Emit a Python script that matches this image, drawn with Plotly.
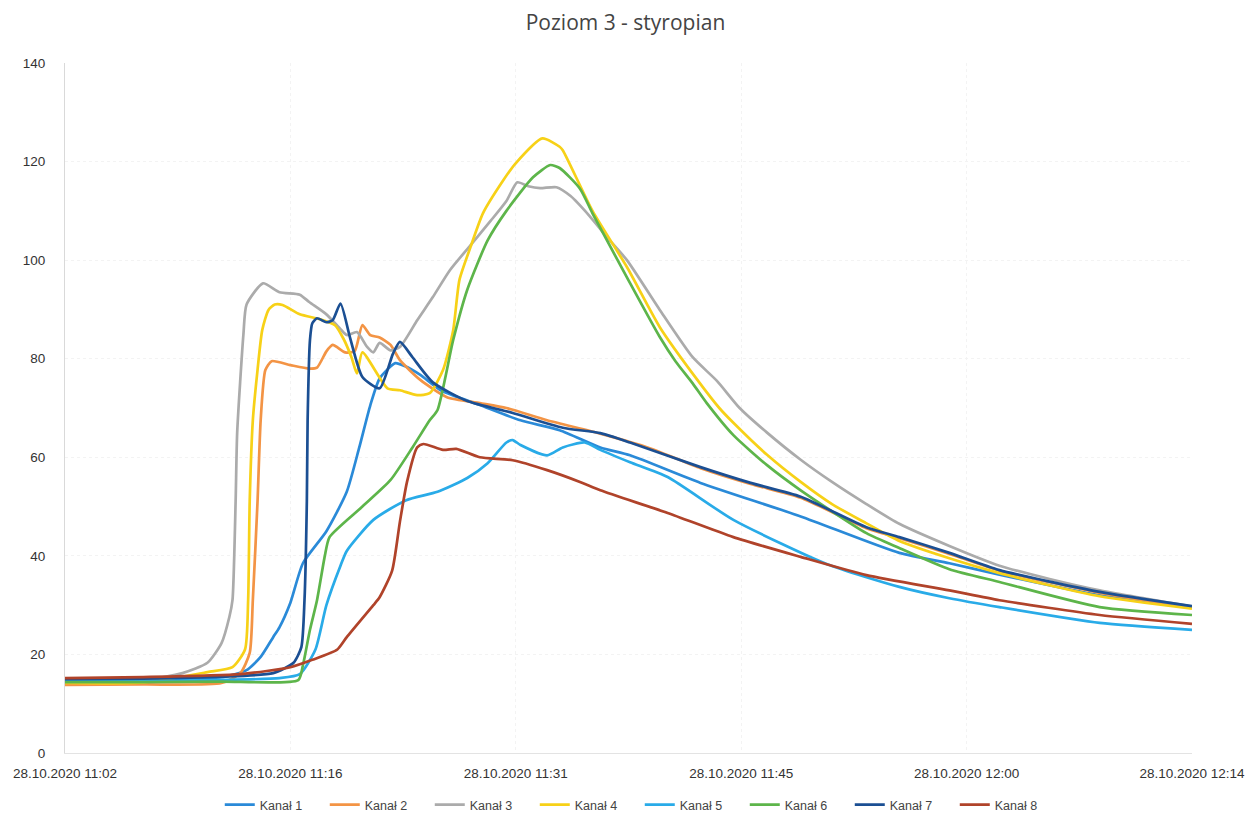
import plotly.graph_objects as go

# time in minutes after 28.10.2020 11:02
tick_vals = [0, 14.4, 28.8, 43.2, 57.6, 72.0]
tick_text = ["28.10.2020 11:02", "28.10.2020 11:16", "28.10.2020 11:31",
             "28.10.2020 11:45", "28.10.2020 12:00", "28.10.2020 12:14"]

k1_t = [0, 5, 10.1, 11.6, 12.5, 13.3, 13.7, 14.4, 15.2, 16.7, 18.0, 18.8, 19.5, 20.1, 21.1, 21.7,
        22.7, 24.0, 26.5, 29.1, 31.6, 34.2, 36.1, 40.6, 47.0, 53.3, 56.5, 59.7, 66.1, 72.0]
k1_v = [14.8, 15.0, 15.4, 16.8, 19.5, 23.5, 25.5, 30.5, 38.5, 45, 53, 62, 70.5, 76, 79.1, 78.5,
        76.7, 73.6, 70.6, 67.5, 65.5, 62, 60.4, 54.8, 48, 40.6, 38.5, 36.2, 32, 29.5]

k2_t = [0, 5, 10, 11.2, 11.8, 12.0, 12.3, 12.5, 12.8, 13.2, 14.4, 15.6, 16.1, 16.7, 17.1, 17.9,
        18.5, 19.0, 19.5, 20.1, 20.8, 21.4, 22.7, 24.4, 26.5, 28.2, 30.8, 34.2, 37.4, 40.6,
        43.8, 47.0, 51.2, 53.3, 56.5, 59.7, 66.1, 72.0]
k2_v = [13.8, 13.9, 14.2, 16.2, 20.3, 31, 51, 67.5, 77.7, 79.5, 78.7, 78, 78.2, 81.5, 82.8, 81.3,
        81.5, 86.8, 84.8, 84.3, 82.8, 79.7, 75.7, 72.2, 71, 70, 67.5, 64.8, 61.8, 57.8,
        54.6, 51.8, 45.6, 43.6, 40.4, 37, 32.5, 29.5]

k3_t = [0, 5, 7.5, 9.1, 10.0, 10.5, 10.7, 10.9, 11.0, 11.4, 11.6, 12.65, 13.7, 15.0, 15.6, 16.7,
        17.6, 18.0, 18.65, 19.3, 19.7, 20.1, 20.8, 21.4, 22.5, 23.5, 24.6, 25.9, 27.2, 28.2,
        28.9, 29.6, 30.35, 31.4, 32.3, 33.5, 34.8, 35.9, 38.0, 40.1, 41.65, 43.1, 44.85, 47.0,
        49.0, 51.2, 53.3, 56.5, 59.7, 62.9, 66.1, 72.0]
k3_v = [14.6, 14.8, 16.2, 18.3, 22.3, 27.6, 31, 51, 65, 85, 91, 95.3, 93.5, 93, 91.5, 89,
        86, 84.8, 85.4, 82.4, 81.3, 83.2, 81.7, 82.4, 87.8, 92.5, 98, 103, 108, 112,
        115.8, 115, 114.6, 114.8, 113, 109, 104, 100, 89.9, 80.3, 75.5, 70, 65, 59.5,
        55, 50.5, 46.5, 42, 38, 35.3, 33, 29.7]

k4_t = [0, 5, 9.1, 10.7, 11.5, 11.7, 11.8, 12.0, 12.3, 12.6, 13.0, 13.4, 13.9, 15.0, 16.3,
        17.25, 17.8, 18.3, 18.65, 19.0, 20.6, 21.4, 22.5, 23.3, 24.15, 24.8, 25.2, 25.9, 26.7,
        28.0, 28.75, 30.5, 31.6, 31.8, 33.7, 35.9, 38.0, 40.4, 41.8, 42.7, 44.85, 47.0, 49.0,
        51.2, 53.3, 56.5, 59.7, 66.1, 72.0]
k4_v = [14.2, 14.3, 16.4, 17.4, 21, 31, 51, 67.5, 77.7, 85.8, 89.9, 91, 90.9, 89, 88,
        86.8, 84, 80.3, 77, 81.3, 74, 73.6, 72.6, 73, 77.7, 85.8, 96, 102.6, 109.5,
        116.2, 119.5, 124.7, 123, 122.3, 110, 98.6, 86.4, 75.7, 70, 67, 60.5, 55, 50.5,
        46.6, 43, 39.5, 36.5, 31.8, 29.3]

k5_t = [0, 5, 10, 13.7, 15.0, 16.0, 16.7, 17.6, 18.0, 19.7, 21.8, 23.8, 25.7, 27.0, 28.2,
        28.6, 29.1, 30.8, 31.8, 33.2, 34.2, 36.1, 38.5, 42.7, 48.7, 53.3, 56.5, 59.7, 66.1, 72.0]
k5_v = [14.6, 14.6, 14.8, 15.2, 16, 21, 30, 38, 41, 47.3, 51.3, 53, 55.8, 58.8, 63,
        63.5, 62.5, 60.4, 62, 63, 61.5, 59, 56, 47.3, 38.3, 33.7, 31.4, 29.6, 26.4, 25]

k6_t = [0, 5, 10, 14.9, 15.2, 15.65, 16.1, 16.6, 16.9, 19.0, 20.8, 22.2, 23.3, 23.8, 24.8,
        25.7, 27.0, 28.2, 29.9, 31.0, 31.6, 32.9, 33.7, 35.9, 38.0, 39.0, 40.1, 41.0, 42.7, 44.85,
        47.0, 51.2, 53.3, 56.5, 59.7, 66.1, 72.0]
k6_v = [14.4, 14.4, 14.5, 14.8, 17.8, 25, 31, 40, 43.8, 50, 55.4, 62, 67.5, 69.6, 83.8,
        94, 104, 110, 116.8, 119.3, 118.7, 114.5, 109.5, 96.5, 84.4, 79.5, 75, 71, 64.5, 58.4,
        53.3, 44.6, 41.6, 37.3, 34.7, 29.6, 28]

k7_t = [0, 5, 10, 13.3, 14.6, 15.1, 15.3, 15.45, 15.5, 15.65, 15.8, 16.1, 16.7, 17.1, 17.6,
        18.2, 19.0, 20.1, 20.95, 21.4, 22.2, 23.5, 25.7, 28.6, 31.8, 34.2, 36.1, 40.6, 43.8,
        47.0, 51.2, 53.3, 56.5, 59.7, 66.1, 72.0]
k7_v = [15.0, 15.1, 15.5, 16.2, 18.3, 21.5, 31, 51, 67.5, 83.8, 87.2, 88.2, 87.4, 87.8, 91.2,
        84.4, 76.3, 74, 81, 83.4, 80.3, 75.2, 71.4, 69, 66, 64.9, 63, 58, 54.8,
        52, 45.8, 43.8, 40.6, 37.1, 32.7, 29.8]

k8_t = [0, 5, 11.2, 14.4, 15.8, 17.4, 18.0, 19.7, 20.1, 20.9, 21.4, 21.85, 22.5, 22.9, 24.15,
        25.0, 26.5, 28.6, 30.8, 32.9, 34.2, 38.5, 42.7, 47.0, 51.2, 56.5, 59.7, 66.1, 72.0]
k8_v = [15.2, 15.4, 16, 17.4, 18.9, 21, 23.5, 30, 31.6, 37, 47, 55, 62, 62.7, 61.5,
        61.7, 60, 59.4, 57.4, 55, 53.3, 48.7, 43.8, 39.8, 36.1, 33, 31, 28, 26.2]

names = ["Kanał 1", "Kanał 2", "Kanał 3", "Kanał 4", "Kanał 5", "Kanał 6", "Kanał 7", "Kanał 8"]
colors = ["#2A8AD8", "#F39445", "#ABABAB", "#F7D117", "#29ABE8", "#5DB54A", "#1B4F93", "#B0432A"]
series = [(k1_t, k1_v), (k2_t, k2_v), (k3_t, k3_v), (k4_t, k4_v),
          (k5_t, k5_v), (k6_t, k6_v), (k7_t, k7_v), (k8_t, k8_v)]

fig = go.Figure()
for name, col, (t, v) in zip(names, colors, series):
    fig.add_trace(go.Scatter(x=t, y=v, mode="lines", name=name,
                             line=dict(color=col, width=2.7, shape="spline", smoothing=0.6)))

fig.update_layout(
    width=1251, height=816,
    paper_bgcolor="white", plot_bgcolor="white",
    margin=dict(l=65, r=59, t=63, b=63, autoexpand=False),
    title=dict(text="Poziom 3 - styropian", x=0.5, xanchor="center",
               yref="container", y=1 - 23 / 816, yanchor="middle",
               font=dict(family="Open Sans", size=21, color="#444444")),
    font=dict(family="Liberation Sans", size=13.5, color="#333333"),
    showlegend=True,
    legend=dict(orientation="h", x=0.51, xanchor="center", y=-(805 - 753) / 690, yanchor="middle",
                font=dict(size=12.5, color="#444444"), entrywidth=60, entrywidthmode="pixels",
                bgcolor="rgba(0,0,0,0)"),
)
fig.update_xaxes(range=[0, 72], tickmode="array", tickvals=tick_vals, ticktext=tick_text,
                 automargin=False,
                 showgrid=True, gridcolor="#f3f3f3", griddash="dot", zeroline=False,
                 showline=True, linecolor="#e3e3e3", ticks="", ticklabelstandoff=8,
                 tickfont=dict(size=13.5, color="#333333"))
fig.update_yaxes(range=[0, 140], tickmode="array", tickvals=list(range(0, 141, 20)),
                 automargin=False,
                 showgrid=True, gridcolor="#f3f3f3", griddash="dot", zeroline=False,
                 showline=True, linecolor="#d9d9d9", ticks="", ticklabelstandoff=16,
                 tickfont=dict(size=13.5, color="#333333"))

fig.write_html("out.html", config={"displayModeBar": False},
               post_script="document.body.style.margin='0px';document.body.style.overflow='hidden';")
